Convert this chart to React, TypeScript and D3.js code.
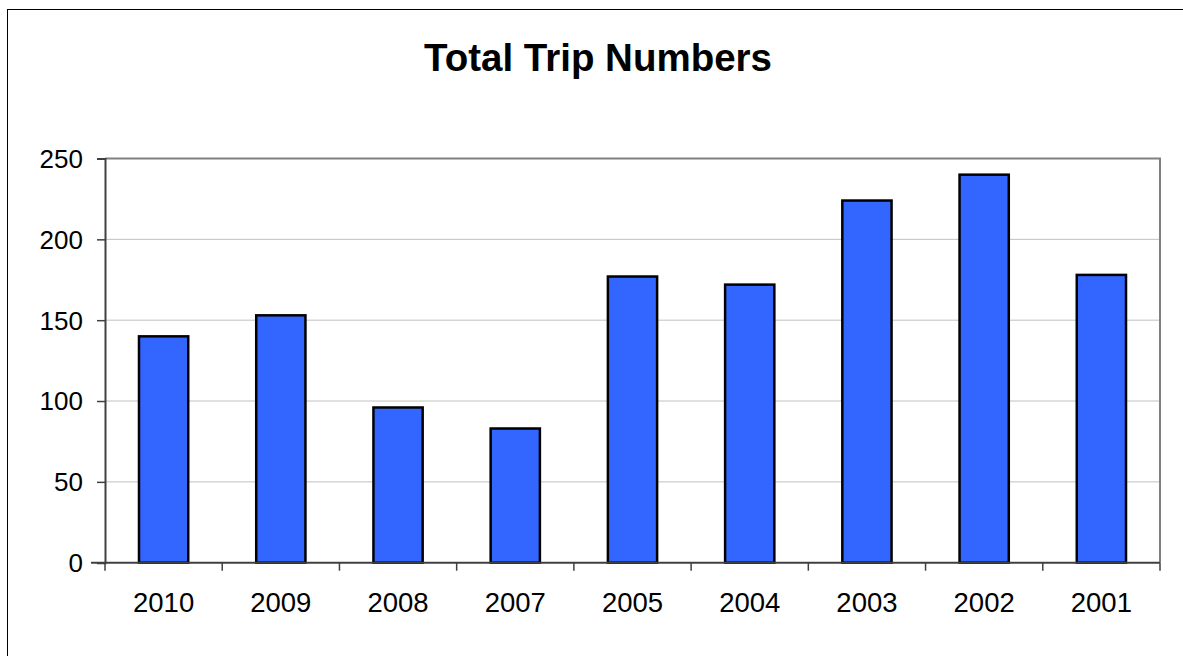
import { useEffect, useRef } from "react";
import * as d3 from "d3";

const YEARS = ["2010", "2009", "2008", "2007", "2005", "2004", "2003", "2002", "2001"];
const TRIPS = [140, 153, 96, 83, 177, 172, 224, 240, 178];
const Y_TICKS = [0, 50, 100, 150, 200, 250];
const TITLE = "Total Trip Numbers";

const FONT = "'Liberation Sans', Arial, sans-serif";

export default function App() {
  const svgRef = useRef<SVGSVGElement>(null);

  useEffect(() => {
    if (!svgRef.current) return;
    const svg = d3.select(svgRef.current);
    svg.selectAll("*").remove();

    const width = 1183;
    const height = 656;
    const plot = { left: 105, right: 1160, top: 158.5, bottom: 562.7 };

    svg.attr("width", width).attr("height", height);

    // chart area border (only left and top fall inside the picture)
    svg.append("rect")
      .attr("x", 7.5)
      .attr("y", 9.5)
      .attr("width", 1250)
      .attr("height", 700)
      .attr("fill", "#fff")
      .attr("stroke", "#000")
      .attr("stroke-width", 1);

    svg.append("text")
      .attr("x", 598)
      .attr("y", 70.5)
      .attr("text-anchor", "middle")
      .style("font-family", FONT)
      .style("font-weight", "bold")
      .style("font-size", "38.5px")
      .text(TITLE);

    const x = d3.scaleBand<string>()
      .domain(YEARS)
      .range([plot.left, plot.right])
      .paddingInner(0.58)
      .paddingOuter(0.29);

    const y = d3.scaleLinear()
      .domain([0, 250])
      .range([plot.bottom, plot.top]);

    // gridlines
    svg.append("g")
      .selectAll("line")
      .data(Y_TICKS.filter(t => t > 0 && t < 250))
      .enter()
      .append("line")
      .attr("x1", plot.left)
      .attr("x2", plot.right)
      .attr("y1", d => y(d))
      .attr("y2", d => y(d))
      .attr("stroke", "#c0c0c0")
      .attr("stroke-width", 1);

    // plot frame: top + right in grey
    svg.append("path")
      .attr("d", `M${plot.left},${plot.top}H${plot.right}V${plot.bottom}`)
      .attr("fill", "none")
      .attr("stroke", "#808080")
      .attr("stroke-width", 2);

    // bars
    svg.append("g")
      .selectAll("rect")
      .data(YEARS.map((yr, i) => ({ yr, v: TRIPS[i] })))
      .enter()
      .append("rect")
      .attr("x", d => x(d.yr)!)
      .attr("y", d => y(d.v))
      .attr("width", x.bandwidth())
      .attr("height", d => y(0) - y(d.v))
      .attr("fill", "#3366ff")
      .attr("stroke", "#000")
      .attr("stroke-width", 2.5);

    // y axis
    const yAxis = svg.append("g")
      .attr("transform", `translate(${plot.left},0)`)
      .call(d3.axisLeft(y).tickValues(Y_TICKS).tickSize(8).tickPadding(14).tickFormat(d => `${d}`));
    yAxis.select(".domain").attr("stroke", "#404040").attr("stroke-width", 2);
    yAxis.selectAll(".tick line").attr("stroke", "#404040").attr("stroke-width", 1.5);
    yAxis.selectAll(".tick text")
      .style("font-family", FONT)
      .style("font-size", "26px")
      .attr("fill", "#000")
      .attr("dy", "0.34em");

    // x axis
    const step = x.step();
    const boundaries = d3.range(YEARS.length + 1).map(i => plot.left + i * step);
    svg.append("line")
      .attr("x1", plot.left - 14)
      .attr("x2", plot.right)
      .attr("y1", plot.bottom)
      .attr("y2", plot.bottom)
      .attr("stroke", "#404040")
      .attr("stroke-width", 2);
    svg.append("g")
      .selectAll("line")
      .data(boundaries)
      .enter()
      .append("line")
      .attr("x1", d => d)
      .attr("x2", d => d)
      .attr("y1", plot.bottom)
      .attr("y2", plot.bottom + 8)
      .attr("stroke", "#404040")
      .attr("stroke-width", 1.5);

    svg.append("g")
      .selectAll("text")
      .data(YEARS)
      .enter()
      .append("text")
      .attr("x", d => x(d)! + x.bandwidth() / 2)
      .attr("y", 612)
      .attr("text-anchor", "middle")
      .style("font-family", FONT)
      .style("font-size", "27.5px")
      .text(d => d);
  }, []);

  return (
    <div style={{ position: "absolute", left: 0, top: 0, width: 1183, height: 656, overflow: "hidden", background: "#fff" }}>
      <svg ref={svgRef} style={{ display: "block" }}></svg>
    </div>
  );
}
